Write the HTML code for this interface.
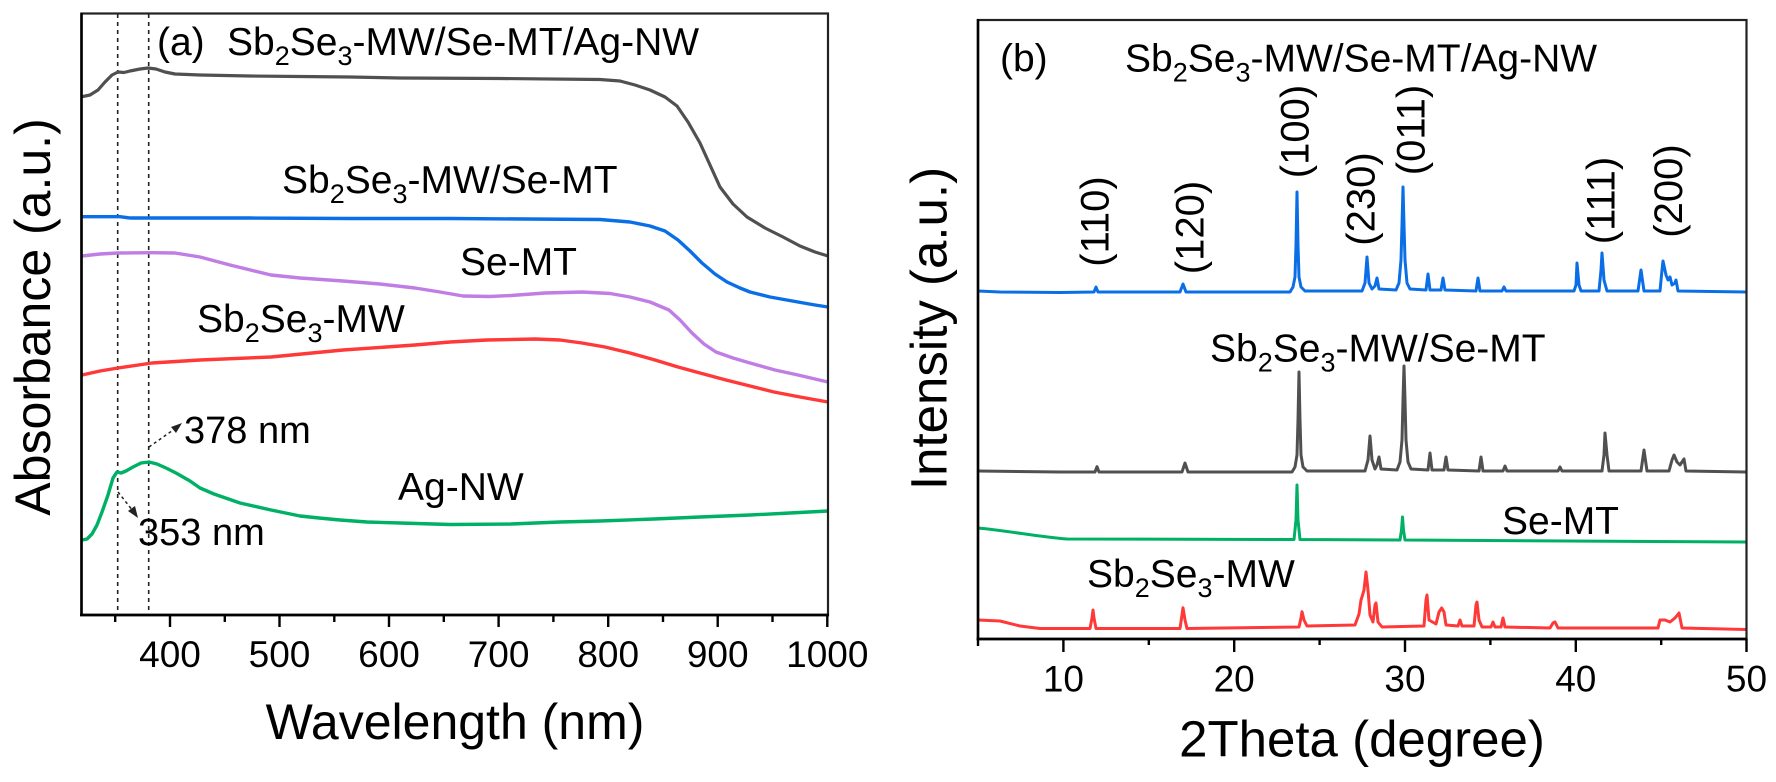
<!DOCTYPE html>
<html>
<head>
<meta charset="utf-8">
<style>
html,body{margin:0;padding:0;background:#fff;}
svg{display:block;}
text{font-family:"Liberation Sans",Arial,sans-serif;fill:#000;}
</style>
</head>
<body>
<svg width="1776" height="782" viewBox="0 0 1776 782" xmlns="http://www.w3.org/2000/svg">
<rect x="0" y="0" width="1776" height="782" fill="#fff"/>

<!-- ============ LEFT PANEL (a) ============ -->
<!-- dashed guide lines -->
<line x1="117.7" y1="14" x2="117.7" y2="615" stroke="#222" stroke-width="1.6" stroke-dasharray="4,4"/>
<line x1="148.7" y1="14" x2="148.7" y2="615" stroke="#222" stroke-width="1.6" stroke-dasharray="4,4"/>

<!-- curves -->
<path fill="none" stroke="#505050" stroke-width="3.2" stroke-linejoin="round" d="M82,96.7 L90,95 L98,90 L105,82 L112,75 L118,72 L124,72.5 L130,71 L140,69 L148,68 L156,69 L165,72 L175,74 L200,75 L250,76 L300,76.5 L350,77 L400,78 L500,78.5 L600,79.5 L620,81 L635,85 L650,90 L665,97 L677,106 L688,122 L700,143 L710,165 L720,187 L733,204 L747,217 L765,228 L783,237 L800,246 L815,252 L828,256"/>
<path fill="none" stroke="#0a6fe6" stroke-width="3.4" stroke-linejoin="round" d="M82,216.7 L120,216.7 L130,218 L250,218 L350,218.5 L450,218.5 L600,219.5 L630,222 L650,226 L665,231 L678,240 L690,251 L702,263 L715,274 L727,282 L740,288 L750,292 L770,297 L798,302 L815,305 L828,307"/>
<path fill="none" stroke="#c07ee4" stroke-width="3.4" stroke-linejoin="round" d="M82,256 L100,254 L118,253 L152,252.7 L175,253 L200,257 L230,265 L271,275 L300,278 L343,281 L380,284 L415,288 L440,292 L463,296 L490,296.5 L511,295.5 L545,293 L582,292 L610,293.5 L630,297 L650,302 L669,310 L680,320 L692,333 L704,344 L716,352 L733,358 L750,363 L775,370 L798,375 L815,379 L828,382"/>
<path fill="none" stroke="#ff3838" stroke-width="3.4" stroke-linejoin="round" d="M82,375 L100,371 L118,368 L152,363 L200,360 L271,357 L343,350 L415,345 L450,342 L487,340 L535,339 L560,340 L582,343 L605,347 L630,353 L655,360 L678,367 L700,373 L726,380 L750,386 L774,392 L800,397 L828,402"/>
<path fill="none" stroke="#00b064" stroke-width="3.4" stroke-linejoin="round" d="M82,540 L87,539 L92,534 L97,525 L102,512 L108,495 L113,478 L117,472 L121,473 L126,471 L133,467 L141,463 L149,462 L157,464 L166,468 L176,473 L190,481 L200,488 L214,494 L240,503 L271,510 L300,516 L319,518 L340,520 L367,522 L400,523 L450,524.5 L511,524 L560,522 L600,521 L654,519 L700,517 L750,515 L790,513 L828,511"/>

<!-- annotation arrows -->
<line x1="149" y1="447" x2="176" y2="428" stroke="#222" stroke-width="1.5" stroke-dasharray="3,3"/>
<polygon points="182,423 171,427 176,433" fill="#222"/>
<line x1="118" y1="492" x2="133" y2="511" stroke="#222" stroke-width="1.5" stroke-dasharray="3,3"/>
<polygon points="138,518 128,511 135,506" fill="#222"/>

<!-- frame -->
<rect x="81.5" y="13.5" width="746.5" height="601.5" fill="none" stroke="#222" stroke-width="2.2"/>
<line x1="81.5" y1="13" x2="81.5" y2="616" stroke="#000" stroke-width="2.6"/>
<line x1="80" y1="615" x2="829" y2="615" stroke="#000" stroke-width="2.8"/>

<!-- x ticks -->
<g stroke="#000" stroke-width="2.4">
<line x1="170" y1="615" x2="170" y2="627"/>
<line x1="279.5" y1="615" x2="279.5" y2="627"/>
<line x1="389" y1="615" x2="389" y2="627"/>
<line x1="498.6" y1="615" x2="498.6" y2="627"/>
<line x1="608.2" y1="615" x2="608.2" y2="627"/>
<line x1="717.7" y1="615" x2="717.7" y2="627"/>
<line x1="827.3" y1="615" x2="827.3" y2="627"/>
<line x1="115.2" y1="615" x2="115.2" y2="622"/>
<line x1="224.8" y1="615" x2="224.8" y2="622"/>
<line x1="334.3" y1="615" x2="334.3" y2="622"/>
<line x1="443.8" y1="615" x2="443.8" y2="622"/>
<line x1="553.4" y1="615" x2="553.4" y2="622"/>
<line x1="663" y1="615" x2="663" y2="622"/>
<line x1="772.5" y1="615" x2="772.5" y2="622"/>
</g>
<g font-size="37" text-anchor="middle">
<text x="170" y="667">400</text>
<text x="279.5" y="667">500</text>
<text x="389" y="667">600</text>
<text x="498.6" y="667">700</text>
<text x="608.2" y="667">800</text>
<text x="717.7" y="667">900</text>
<text x="827.3" y="667">1000</text>
</g>
<text x="455" y="739" font-size="50" text-anchor="middle">Wavelength (nm)</text>
<text transform="translate(50,317) rotate(-90)" font-size="50" text-anchor="middle">Absorbance (a.u.)</text>

<!-- labels -->
<g font-size="39">
<text x="157" y="55">(a)</text>
<text x="227" y="55">Sb<tspan font-size="27" dy="10">2</tspan><tspan dy="-10">Se</tspan><tspan font-size="27" dy="10">3</tspan><tspan dy="-10">-MW/Se-MT/Ag-NW</tspan></text>
<text x="282" y="193">Sb<tspan font-size="27" dy="10">2</tspan><tspan dy="-10">Se</tspan><tspan font-size="27" dy="10">3</tspan><tspan dy="-10">-MW/Se-MT</tspan></text>
<text x="460" y="275">Se-MT</text>
<text x="197" y="332">Sb<tspan font-size="27" dy="10">2</tspan><tspan dy="-10">Se</tspan><tspan font-size="27" dy="10">3</tspan><tspan dy="-10">-MW</tspan></text>
<text x="184" y="443" font-size="38">378 nm</text>
<text x="398" y="500">Ag-NW</text>
<text x="138" y="545" font-size="38">353 nm</text>
</g>

<!-- ============ RIGHT PANEL (b) ============ -->
<path fill="none" stroke="#0a6fe6" stroke-width="3" stroke-linejoin="round" d="M978,291 L1000,292 L1060,292.5 L1094,292 L1096,287 L1098,292 L1180,292 L1183,284 L1186,292 L1290,292 L1293,287 L1295,277 L1296,245 L1297,192 L1298,245 L1299,277 L1301,287 L1305,291 L1362,291 L1365,283 L1367,257 L1369,283 L1372,289 L1375,286 L1377,278 L1379,289 L1396,290 L1399,283 L1401,260 L1402,225 L1403,187 L1404,225 L1405,260 L1407,283 L1410,289 L1426,290 L1428,274 L1430,290 L1441,290 L1443,278 L1445,290 L1476,291 L1478,278 L1480,291 L1502,291 L1504,287 L1506,291 L1574,291 L1576,285 L1577,263 L1579,285 L1581,291 L1599,291 L1601,270 L1602,253 L1604,280 L1607,291 L1638,291 L1641,270 L1644,291 L1660,291 L1662,270 L1663,261 L1666,275 L1668,280 L1670,277 L1672,285 L1675,283 L1676,280 L1678,291 L1746,292"/>
<path fill="none" stroke="#505050" stroke-width="3" stroke-linejoin="round" d="M978,471 L1060,472 L1095,472 L1097,466.7 L1099,472 L1182,472 L1185,463 L1188,472 L1292,472 L1295,467 L1297,455 L1298,420 L1299,372 L1300,420 L1301,455 L1303,467 L1307,471 L1365,471 L1368,460 L1370,436 L1372,460 L1375,469 L1377,465 L1379,457 L1381,469 L1397,470 L1400,462 L1402,440 L1403,400 L1404,366 L1405,400 L1406,440 L1408,462 L1411,469 L1428,470 L1430,453 L1432,470 L1444,470 L1446,457 L1448,470 L1479,471 L1481,457 L1483,471 L1503,471 L1505,466 L1507,471 L1558,471 L1560,467 L1562,471 L1602,471 L1604,455 L1605,433 L1607,455 L1609,471 L1641,471 L1644,450 L1647,471 L1669,471 L1672,460 L1674,455 L1677,462 L1680,465 L1684,459 L1686,471 L1746,472"/>
<path fill="none" stroke="#00b064" stroke-width="3" stroke-linejoin="round" d="M978,528 C1010,531 1040,537 1067,539 L1294,539.5 L1296,520 L1297,485 L1298,520 L1300,539.5 L1400,540 L1401.5,530 L1402.5,517 L1403.5,530 L1405,540 L1746,542"/>
<path fill="none" stroke="#ff3838" stroke-width="3" stroke-linejoin="round" d="M978,620 L1000,621 L1020,626 L1040,628.5 L1090,628.5 L1092,618 L1093,610 L1094,618 L1096,628.5 L1180,628.5 L1182,615 L1183,607.7 L1185,620 L1187,628.5 L1299,627 L1301,618 L1302,611.7 L1304,620 L1307,626 L1355,625 L1359,614 L1361,600 L1362,597 L1364,590 L1366,572 L1368,590 L1370,615 L1373,622 L1375,605 L1376,603 L1378,622 L1382,627 L1424,626 L1426,600 L1427,595 L1429,620 L1436,624 L1439,612 L1441.7,608 L1444,612 L1446,625 L1458,626 L1460,620 L1462,626 L1474,626 L1476,605 L1477,602 L1479,620 L1482,627 L1491,627 L1493,622 L1495,627 L1501,627 L1503,618 L1505,627 L1550,628 L1553,623 L1555,622 L1558,628 L1658,628 L1660,620 L1665,620 L1670,622 L1675,618 L1679,613 L1682,628 L1746,629.5"/>

<!-- frame -->
<rect x="978" y="20" width="768.5" height="619" fill="none" stroke="#222" stroke-width="2.2"/>
<line x1="978" y1="19" x2="978" y2="640" stroke="#000" stroke-width="2.6"/>
<line x1="976.5" y1="639" x2="1747.5" y2="639" stroke="#000" stroke-width="2.8"/>

<g stroke="#000" stroke-width="2.4">
<line x1="978" y1="639" x2="978" y2="646"/>
<line x1="1063.4" y1="639" x2="1063.4" y2="652"/>
<line x1="1234.2" y1="639" x2="1234.2" y2="652"/>
<line x1="1405" y1="639" x2="1405" y2="652"/>
<line x1="1575.8" y1="639" x2="1575.8" y2="652"/>
<line x1="1746.5" y1="639" x2="1746.5" y2="652"/>
<line x1="1148.8" y1="639" x2="1148.8" y2="645"/>
<line x1="1319.6" y1="639" x2="1319.6" y2="645"/>
<line x1="1490.4" y1="639" x2="1490.4" y2="645"/>
<line x1="1661.2" y1="639" x2="1661.2" y2="645"/>
</g>
<g font-size="37" text-anchor="middle">
<text x="1063.4" y="691.7">10</text>
<text x="1234.2" y="691.7">20</text>
<text x="1405" y="691.7">30</text>
<text x="1575.8" y="691.7">40</text>
<text x="1746.5" y="691.7">50</text>
</g>
<text x="1362" y="756.7" font-size="51" text-anchor="middle">2Theta (degree)</text>
<text transform="translate(946.5,328.5) rotate(-90)" font-size="51" text-anchor="middle">Intensity (a.u.)</text>

<g font-size="39">
<text x="1000" y="71.7">(b)</text>
<text x="1125" y="71.7">Sb<tspan font-size="27" dy="10">2</tspan><tspan dy="-10">Se</tspan><tspan font-size="27" dy="10">3</tspan><tspan dy="-10">-MW/Se-MT/Ag-NW</tspan></text>
<text x="1210" y="361.7">Sb<tspan font-size="27" dy="10">2</tspan><tspan dy="-10">Se</tspan><tspan font-size="27" dy="10">3</tspan><tspan dy="-10">-MW/Se-MT</tspan></text>
<text x="1502" y="534">Se-MT</text>
<text x="1087" y="587">Sb<tspan font-size="27" dy="10">2</tspan><tspan dy="-10">Se</tspan><tspan font-size="27" dy="10">3</tspan><tspan dy="-10">-MW</tspan></text>
</g>

<!-- Miller indices -->
<g font-size="40" text-anchor="middle">
<text transform="translate(1108.6,221.5) rotate(-90)">(110)</text>
<text transform="translate(1203.6,227.5) rotate(-90)">(120)</text>
<text transform="translate(1308.6,131.5) rotate(-90)">(100)</text>
<text transform="translate(1374.6,199) rotate(-90)">(230)</text>
<text transform="translate(1424.6,130) rotate(-90)">(011)</text>
<text transform="translate(1614.6,200.5) rotate(-90)">(111)</text>
<text transform="translate(1682,191) rotate(-90)">(200)</text>
</g>
</svg>
</body>
</html>
